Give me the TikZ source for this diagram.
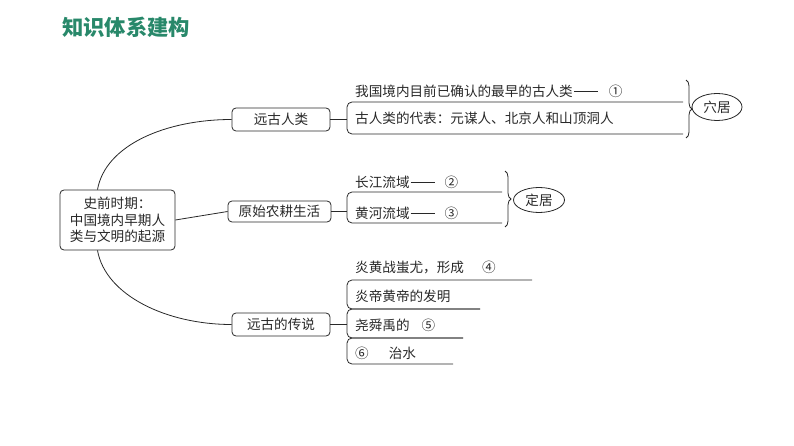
\documentclass[tikz,border=0pt]{standalone}
\usepackage{fontspec}
\setmainfont{Noto Sans CJK SC}
\usetikzlibrary{decorations.pathreplacing,shapes.geometric}
\definecolor{titlegreen}{RGB}{40,136,106}
\definecolor{ink}{RGB}{40,40,40}
\newcommand{\mydash}{\hspace{1pt}\rule[4.8pt]{24pt}{0.6pt}}
\tikzset{
  every node/.style={font=\fontsize{13.6}{16.5}\selectfont, text=ink},
  titletext/.style={font=\fontsize{21.3}{24}\selectfont\bfseries, text=titlegreen, anchor=west, inner sep=0},
  cbox/.style={draw=ink, line width=0.8pt, rounded corners=4pt, align=center, minimum width=115pt, minimum height=60pt, inner sep=0},
  bbox/.style={draw=ink, line width=0.8pt, rounded corners=4pt, minimum width=98pt, minimum height=23pt, inner sep=0},
  rowtext/.style={anchor=west, inner sep=0},
  link/.style={draw=ink, line width=0.8pt},
  bracket/.style={draw=ink, line width=0.8pt, rounded corners=5pt},
  bracestyle/.style={draw=ink, line width=0.8pt, decorate, decoration={brace, amplitude=6pt}},
  oval/.style={draw=ink, line width=0.8pt, ellipse, inner sep=0}
}
\begin{document}
\begin{tikzpicture}[x=1pt, y=-1pt]
\useasboundingbox (0,0) rectangle (794,446);
% title
\node[titletext] (title) at (62,27) {知识体系建构};
% central box
\node[cbox] (center) at (117.5,220) {史前时期：\\中国境内早期人\\类与文明的起源};
% branch boxes
\node[bbox] (b1) at (281,119.5) {远古人类};
\node[bbox, minimum width=103pt, minimum height=21pt] (b2) at (279.5,211.5) {原始农耕生活};
\node[bbox] (b3) at (281,324.5) {远古的传说};
% connectors from centre
\draw[link] ([xshift=-20pt]center.north) .. controls +(8,-45) and +(-65,0) .. (b1.west);
\draw[link] (center.east) -- (b2.west);
\draw[link] ([xshift=-20pt]center.south) .. controls +(8,45) and +(-65,0) .. (b3.west);
% bracket joints
\coordinate (k1) at (347,119.5);
\coordinate (k2) at (347,211.5);
\coordinate (k3) at (347,324.5);
\draw[link] (b1.east) -- (k1);
\draw[link] (b2.east) -- (k2);
\draw[link] (b3.east) -- (k3);
% group 1
\draw[bracket] (683,102) -- (347,102) -- (347,134) -- (683,134);
\node[rowtext] (t1) at (355,91) {我国境内目前已确认的最早的古人类\mydash\hspace{11pt}①};
\node[rowtext] (t2) at (355,118) {古人类的代表：元谋人、北京人和山顶洞人};
\draw[bracestyle] (686,80) -- (686,138);
\node[oval, minimum width=50pt, minimum height=27pt] (e1) at (717,107) {穴居};
% group 2
\draw[bracket] (502,192) -- (347,192) -- (347,223) -- (502,223);
\node[rowtext] (t3) at (355,182) {长江流域\mydash\hspace{10pt}②};
\node[rowtext] (t4) at (355,213) {黄河流域\mydash\hspace{10pt}③};
\draw[bracestyle] (505,171) -- (505,227);
\node[oval, minimum width=51pt, minimum height=25pt] (e2) at (539,200) {定居};
% group 3
\draw[bracket] (532,280) -- (347,280) -- (347,309) -- (480,309);
\draw[bracket] (480,309) -- (347,309) -- (347,338) -- (463,338);
\draw[bracket] (463,338) -- (347,338) -- (347,364) -- (453,364);
\node[rowtext] (t5) at (355,267) {炎黄战蚩尤，形成\hspace{18pt}④};
\node[rowtext] (t6) at (355,296) {炎帝黄帝的发明};
\node[rowtext] (t7) at (355,325) {尧舜禹的\hspace{12pt}⑤};
\node[rowtext] (t8) at (355,353) {⑥\hspace{20pt}治水};
\end{tikzpicture}
\end{document}
